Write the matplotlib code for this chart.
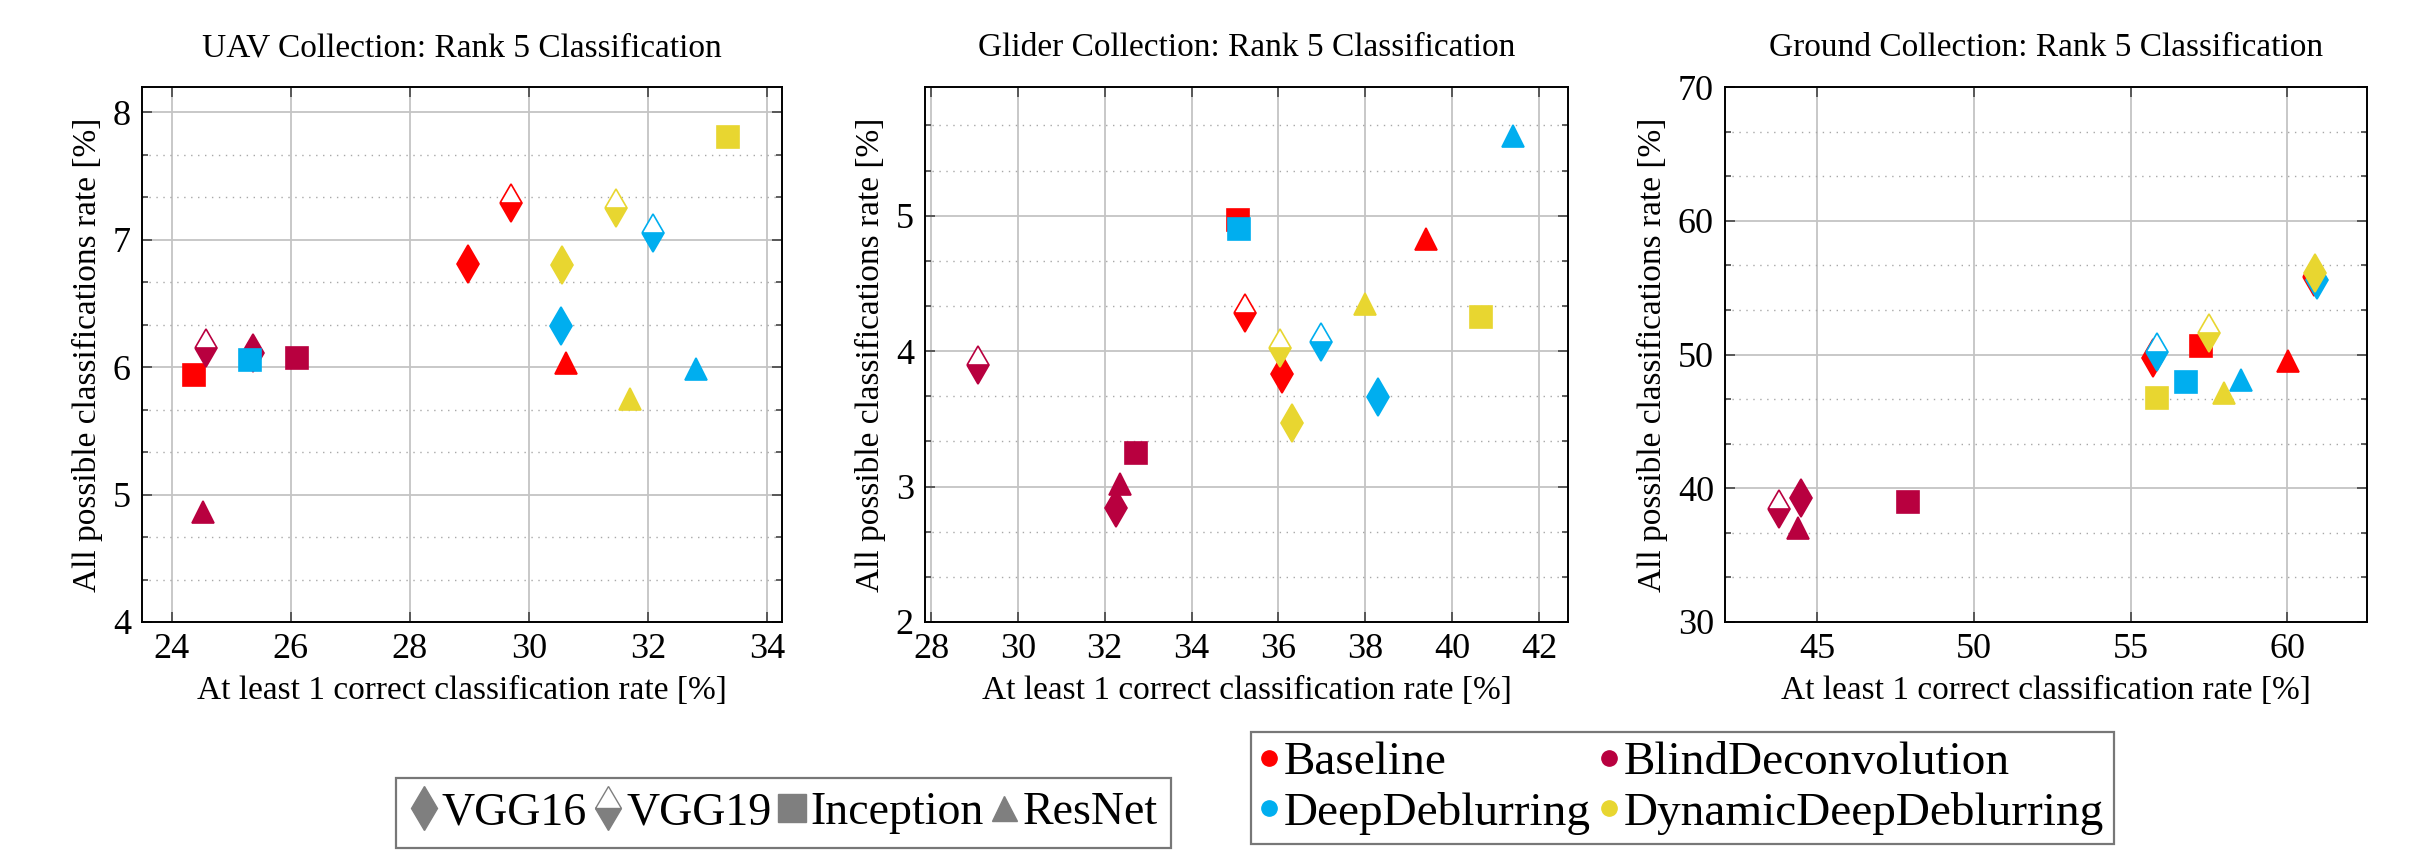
import matplotlib
matplotlib.use("Agg")
import matplotlib.pyplot as plt
from matplotlib.lines import Line2D
from matplotlib.ticker import MultipleLocator

plt.rcParams['font.family'] = 'serif'
plt.rcParams['font.serif'] = ['Liberation Serif', 'DejaVu Serif']
plt.rcParams['mathtext.fontset'] = 'stix'

methods = ['Baseline', 'BlindDeconvolution', 'DeepDeblurring', 'DynamicDeepDeblurring']
models = ['VGG16', 'VGG19', 'Inception', 'ResNet']
colors = ['#ff0000', '#b8003f', '#00aeef', '#e8d630']

titles = ['UAV Collection: Rank 5 Classification',
          'Glider Collection: Rank 5 Classification',
          'Ground Collection: Rank 5 Classification']

# rows = methods, cols = models (VGG16, VGG19, Inception, ResNet)
uav_x = [[28.98, 29.69, 24.37, 30.62],
         [25.37, 24.57, 26.11, 24.53],
         [30.54, 32.09, 25.32, 32.81],
         [30.56, 31.46, 33.34, 31.69]]
uav_y = [[6.81, 7.29, 5.94, 6.03],
         [6.11, 6.15, 6.07, 4.86],
         [6.32, 7.05, 6.06, 5.99],
         [6.80, 7.25, 7.81, 5.75]]

glider_x = [[36.09, 35.22, 35.06, 39.39],
            [32.27, 29.07, 32.71, 32.36],
            [38.30, 36.99, 35.09, 41.41],
            [36.32, 36.03, 40.67, 38.00]]
glider_y = [[3.83, 4.28, 4.97, 4.83],
            [2.84, 3.90, 3.25, 3.02],
            [3.66, 4.07, 4.90, 5.59],
            [3.47, 4.02, 4.25, 4.35]]

ground_x = [[55.72, 60.85, 57.24, 60.02],
            [44.47, 43.78, 47.88, 44.37],
            [60.95, 55.86, 56.77, 58.54],
            [60.90, 57.52, 55.83, 57.97]]
ground_y = [[49.75, 55.8, 50.6, 49.5],
            [39.27, 38.48, 39.0, 37.04],
            [55.6, 50.15, 47.92, 48.1],
            [56.1, 51.63, 46.72, 47.1]]

panels = [(uav_x, uav_y), (glider_x, glider_y), (ground_x, ground_y)]
xlims = [(23.5, 34.25), (27.86, 42.67), (42.05, 62.55)]
ylims = [(4, 8.2), (2, 5.95), (30, 70)]
xmajor = [2, 2, 5]
ymajor = [1, 1, 10]
yminor = [1/3, 1/3, 10/3]

fig = plt.figure(figsize=(24.11, 8.5), dpi=100)
lefts = [142, 925, 1725]
rights = [782, 1568, 2367]
top_px, bot_px = 87, 622
W, H = 2411, 850

marker_style = {
    'VGG16': dict(marker='d', markersize=19),
    'VGG19': dict(marker='d', markersize=19),
    'Inception': dict(marker='s', markersize=16),
    'ResNet': dict(marker='^', markersize=16),
}

for i, ((px, py), title) in enumerate(zip(panels, titles)):
    ax = fig.add_axes([lefts[i] / W, 1 - bot_px / H, (rights[i] - lefts[i]) / W, (bot_px - top_px) / H])
    ax.set_xlim(*xlims[i])
    ax.set_ylim(*ylims[i])
    ax.xaxis.set_major_locator(MultipleLocator(xmajor[i]))
    ax.yaxis.set_major_locator(MultipleLocator(ymajor[i]))
    ax.yaxis.set_minor_locator(MultipleLocator(yminor[i]))
    ax.grid(True, which='major', color='#c4c4c4', linewidth=1.3, linestyle='-')
    ax.grid(True, which='minor', axis='y', color='#a8a8a8', linewidth=1.0, linestyle=(0, (1, 4)))
    ax.set_axisbelow(True)
    ax.tick_params(which='both', direction='in', top=True, right=True, labelsize=26, width=1.2,
                   color='#444444', pad=8)
    ax.tick_params(which='major', length=7)
    ax.tick_params(which='minor', length=4)
    for s in ax.spines.values():
        s.set_linewidth(1.4)
    for mi, m in enumerate(methods):
        for ki, k in enumerate(models):
            st = marker_style[k]
            kw = dict(linestyle='none', color=colors[mi], markeredgecolor=colors[mi],
                      markerfacecolor=colors[mi], markeredgewidth=1.2, **st)
            if k == 'VGG19':
                kw.update(fillstyle='bottom', markerfacecoloralt='white')
            ax.plot([px[mi][ki]], [py[mi][ki]], **kw)
    ax.set_title(title, fontsize=24, pad=22)
    ax.set_xlabel('At least 1 correct classification rate [%]', fontsize=24, labelpad=7)
    ax.set_ylabel('All possible classifications rate [%]', fontsize=24, labelpad=7)

gray = '#7f7f7f'
h1 = [Line2D([], [], linestyle='none', marker='d', markersize=22, color=gray, markeredgecolor=gray),
      Line2D([], [], linestyle='none', marker='d', markersize=22, color=gray, markeredgecolor=gray,
             fillstyle='bottom', markerfacecoloralt='white'),
      Line2D([], [], linestyle='none', marker='s', markersize=20, color=gray),
      Line2D([], [], linestyle='none', marker='^', markersize=18, color=gray)]
leg1 = fig.legend(h1, models, loc='lower left', bbox_to_anchor=(396 / W, 2 / H),
                  ncol=4, fontsize=33, frameon=True, fancybox=False, edgecolor='#555555',
                  handlelength=0.6, handletextpad=0.1, columnspacing=0.15, borderpad=0.3,
                  borderaxespad=0)
leg1.get_frame().set_linewidth(1.6)

order = [0, 2, 1, 3]
h2 = [Line2D([], [], linestyle='none', marker='o', markersize=11, color=colors[j]) for j in order]
leg2 = fig.legend(h2, [methods[j] for j in order], loc='upper left', bbox_to_anchor=(1251 / W, 1 - 732 / H),
                  ncol=2, fontsize=34, frameon=True, fancybox=False, edgecolor='#555555',
                  handlelength=0.35, handletextpad=0.15, columnspacing=0.2, borderpad=0.2,
                  labelspacing=0.15, borderaxespad=0)
leg2.get_frame().set_linewidth(1.6)

fig.savefig('out.png', dpi=100)
